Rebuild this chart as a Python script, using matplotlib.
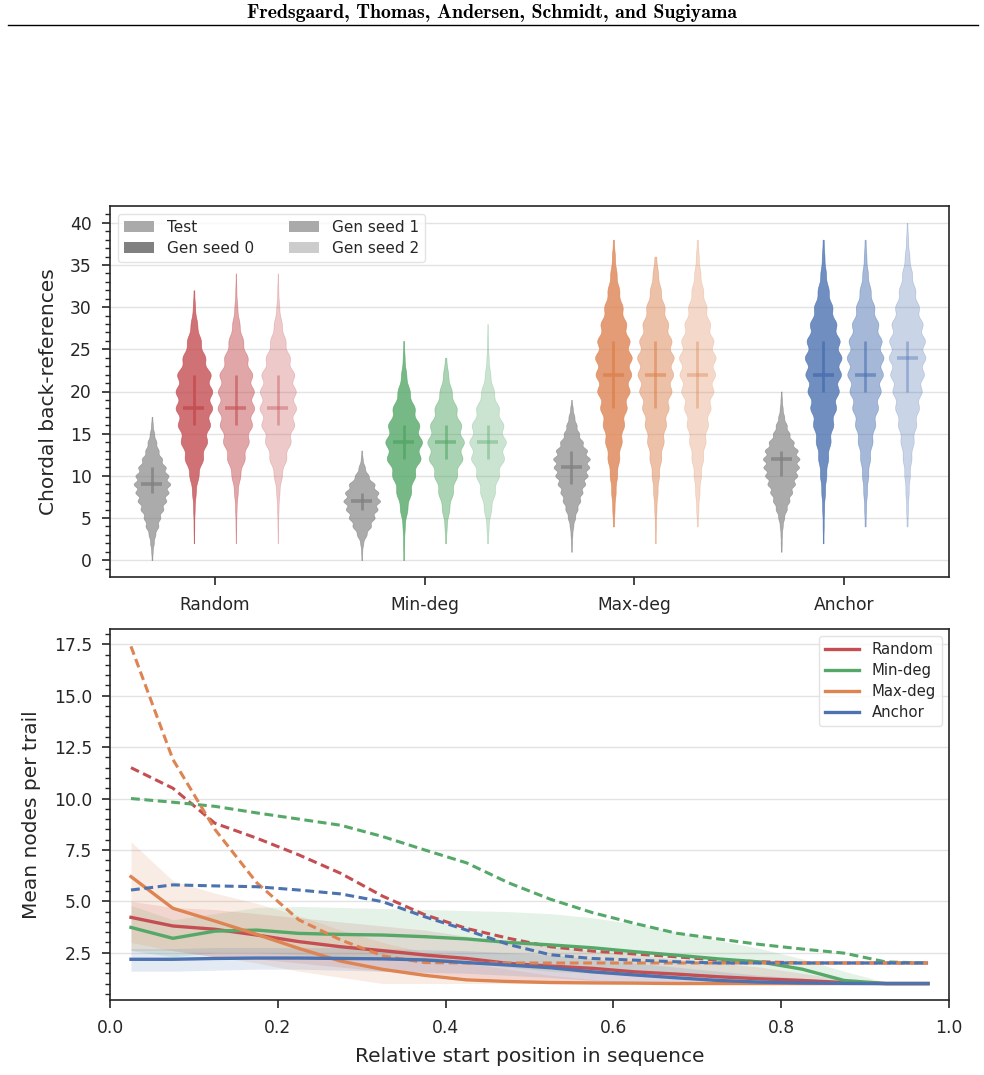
import numpy as np
import matplotlib
matplotlib.use("Agg")
import matplotlib.pyplot as plt
from matplotlib.patches import Patch
from matplotlib.lines import Line2D

# ---------------- data ----------------
categories = ["Random", "Min-deg", "Max-deg", "Anchor"]
groups = ["Test", "Gen seed 0", "Gen seed 1", "Gen seed 2"]

# Test distributions: counts at consecutive integers starting at test_starts
test_starts = [0, 0, 1, 1]
random_test = [2, 4, 10, 18, 35, 45, 62, 78, 90, 100, 90, 75, 55, 36, 24, 12, 5, 2]
mindeg_test = [2, 3, 8, 26, 50, 70, 86, 100, 91, 70, 37, 17, 5, 2]
maxdeg_test = [2, 3, 5, 10, 20, 33, 48, 60, 75, 88, 97, 100, 85, 62, 42, 28, 16, 7, 2]
anchor_test = [2, 3, 4, 8, 16, 30, 45, 60, 75, 88, 97, 100, 90, 68, 45, 30, 16, 8, 4, 2]

# Generated distributions: counts at even values starting at *_seed_starts
random_seed_starts = [2, 2, 2]
random_seed0 = [1, 2, 4, 10, 25, 50, 72, 88, 100, 100, 92, 62, 38, 18, 6, 2]
random_seed1 = [1, 2, 4, 10, 24, 48, 70, 88, 100, 98, 90, 64, 40, 20, 8, 3, 1]
random_seed2 = [1, 2, 4, 9, 22, 46, 70, 90, 100, 98, 90, 66, 42, 22, 8, 3, 1]

mindeg_seed_starts = [0, 2, 2]
mindeg_seed0 = [2, 3, 6, 20, 40, 62, 92, 100, 85, 60, 33, 14, 5, 2]
mindeg_seed1 = [3, 6, 20, 40, 62, 92, 100, 85, 60, 33, 14, 4]
mindeg_seed2 = [3, 6, 20, 40, 62, 90, 100, 86, 62, 35, 15, 6, 3, 1]

maxdeg_seed_starts = [4, 2, 4]
maxdeg_seed0 = [3, 6, 12, 20, 32, 45, 58, 72, 88, 97, 100, 88, 70, 50, 32, 17, 8, 3]
maxdeg_seed1 = [2, 3, 6, 12, 20, 32, 45, 58, 72, 88, 97, 100, 88, 70, 50, 30, 15, 5]
maxdeg_seed2 = [3, 6, 12, 20, 32, 45, 58, 72, 88, 97, 100, 88, 70, 50, 32, 17, 8, 3]

anchor_seed_starts = [2, 4, 4]
anchor_seed0 = [2, 3, 5, 10, 17, 27, 40, 55, 70, 85, 97, 100, 90, 72, 50, 30, 15, 7, 3]
anchor_seed1 = [3, 5, 10, 17, 27, 40, 55, 70, 85, 97, 100, 90, 72, 50, 30, 15, 7, 3]
anchor_seed2 = [3, 5, 9, 15, 24, 36, 50, 65, 80, 92, 100, 98, 85, 65, 45, 27, 13, 6, 2]

# medians / quartiles (Test, seed 0, seed 1, seed 2) per category
medians = [[9, 18, 18, 18], [7, 14, 14, 14], [11, 22, 22, 22], [12, 22, 22, 24]]
q1s = [[8, 16, 16, 16], [6, 12, 12, 12], [9, 18, 18, 18], [10, 20, 20, 20]]
q3s = [[11, 22, 22, 22], [8, 16, 16, 16], [13, 26, 26, 26], [13, 26, 26, 26]]

# Bottom panel
x_pos = [0.025, 0.075, 0.125, 0.175, 0.225, 0.275, 0.325, 0.375, 0.425, 0.475,
         0.525, 0.575, 0.625, 0.675, 0.725, 0.775, 0.825, 0.875, 0.925, 0.975]

random_solid = [4.22, 3.8, 3.64, 3.36, 3.04, 2.79, 2.6, 2.39, 2.22, 1.98,
                1.85, 1.74, 1.57, 1.46, 1.33, 1.23, 1.15, 1.05, 1.0, 1.0]
random_dash = [11.5, 10.5, 8.8, 8.07, 7.26, 6.36, 5.25, 4.35, 3.68, 3.2,
               2.79, 2.58, 2.44, 2.3, 2.14, 2.06, 2.0, 2.0, 2.0, 2.0]
random_hi = [5.0, 4.7, 4.6, 4.4, 4.2, 4.0, 3.8, 3.6, 3.3, 3.0,
             2.8, 2.6, 2.4, 2.2, 2.0, 1.8, 1.5, 1.2, 1.0, 1.0]
random_lo = [2.6, 2.6, 2.3, 2.2, 2.0, 1.8, 1.6, 1.5, 1.3, 1.2,
             1.1, 1.0, 1.0, 1.0, 1.0, 1.0, 1.0, 1.0, 1.0, 1.0]

mindeg_solid = [3.73, 3.2, 3.55, 3.6, 3.44, 3.39, 3.36, 3.28, 3.17, 3.0,
                2.88, 2.74, 2.55, 2.38, 2.2, 2.05, 1.7, 1.15, 1.0, 1.0]
mindeg_dash = [10.0, 9.82, 9.62, 9.3, 9.0, 8.7, 8.15, 7.5, 6.87, 5.9,
               5.1, 4.45, 3.93, 3.45, 3.17, 2.9, 2.68, 2.48, 2.05, 2.0]
mindeg_hi = [4.8, 4.1, 4.4, 4.7, 4.75, 4.7, 4.65, 4.6, 4.55, 4.5,
             4.4, 4.2, 3.9, 3.5, 3.1, 2.7, 2.2, 1.6, 1.05, 1.0]
mindeg_lo = [2.6, 2.3, 2.5, 2.5, 2.4, 2.3, 2.2, 2.1, 2.0, 1.8,
             1.6, 1.5, 1.4, 1.3, 1.2, 1.1, 1.0, 1.0, 1.0, 1.0]

maxdeg_solid = [6.2, 4.66, 4.04, 3.39, 2.71, 2.09, 1.69, 1.4, 1.18, 1.1,
                1.05, 1.03, 1.02, 1.0, 1.0, 1.0, 1.0, 1.0, 1.0, 1.0]
maxdeg_dash = [17.4, 11.9, 8.5, 5.9, 4.1, 3.12, 2.35, 2.02, 2.0, 2.0,
               2.0, 2.0, 2.0, 2.0, 2.0, 2.0, 2.0, 2.0, 2.0, 2.0]
maxdeg_hi = [7.9, 6.0, 5.4, 4.9, 4.3, 3.6, 3.0, 2.5, 2.0, 1.7,
             1.4, 1.2, 1.1, 1.05, 1.0, 1.0, 1.0, 1.0, 1.0, 1.0]
maxdeg_lo = [3.0, 2.6, 2.3, 2.0, 1.6, 1.3, 1.0, 1.0, 1.0, 1.0,
             1.0, 1.0, 1.0, 1.0, 1.0, 1.0, 1.0, 1.0, 1.0, 1.0]

anchor_solid = [2.18, 2.18, 2.22, 2.24, 2.24, 2.22, 2.2, 2.15, 2.02, 1.9,
                1.77, 1.57, 1.42, 1.28, 1.15, 1.07, 1.03, 1.01, 1.0, 1.0]
anchor_dash = [5.55, 5.8, 5.75, 5.71, 5.55, 5.36, 4.98, 4.25, 3.6, 2.9,
               2.4, 2.22, 2.14, 2.06, 2.0, 2.0, 2.0, 2.0, 2.0, 2.0]
anchor_hi = [2.7, 2.7, 2.75, 2.75, 2.75, 2.75, 2.7, 2.65, 2.6, 2.5,
             2.4, 2.2, 2.0, 1.8, 1.6, 1.4, 1.25, 1.1, 1.0, 1.0]
anchor_lo = [1.6, 1.6, 1.65, 1.7, 1.7, 1.65, 1.6, 1.55, 1.5, 1.4,
             1.3, 1.15, 1.05, 1.0, 1.0, 1.0, 1.0, 1.0, 1.0, 1.0]

# ---------------- style ----------------
plt.rcParams["font.family"] = ["DejaVu Sans"]
TXT = "#262626"
plt.rcParams["text.color"] = TXT
plt.rcParams["axes.labelcolor"] = TXT
plt.rcParams["xtick.color"] = TXT
plt.rcParams["ytick.color"] = TXT

cat_colors = ["#c44e52", "#55a868", "#dd8452", "#4c72b0"]
test_color = "#808080"
group_alpha = [0.66, 0.8, 0.5, 0.3]
offsets = [-0.3, -0.1, 0.1, 0.3]
VW = 0.175

W, H = 984, 1075
fig = plt.figure(figsize=(W / 100, H / 100), dpi=100)

# header
fig.text(0.5, 1 - 13 / H, "Fredsgaard, Thomas, Andersen, Schmidt, and Sugiyama",
         ha="center", va="center", fontsize=14.3, fontweight="bold",
         family=["cmb10", "DejaVu Serif"], color="black")
fig.add_artist(Line2D([8 / W, 978 / W], [1 - 25 / H, 1 - 25 / H],
                      color="black", lw=1.0, transform=fig.transFigure))

ax1 = fig.add_axes([110 / W, 1 - 577 / H, 839 / W, 371 / H])
ax2 = fig.add_axes([110 / W, 1 - 1000 / H, 839 / W, 371.5 / H])


def style_axes(ax):
    for s in ax.spines.values():
        s.set_color(TXT)
        s.set_linewidth(1.2)
    ax.tick_params(axis="both", which="major", direction="out", length=6,
                   width=1.2, labelsize=12.3)
    ax.tick_params(axis="y", which="minor", direction="out", length=3.5,
                   width=1.0)
    ax.tick_params(axis="y", which="major", pad=7)
    ax.tick_params(axis="x", which="major", pad=8)
    ax.grid(axis="y", which="major", color="#e3e3e3", lw=1.0)
    ax.set_axisbelow(True)


# ---------------- top panel: violins ----------------
test_lists = [random_test, mindeg_test, maxdeg_test, anchor_test]
seed_lists = [[random_seed0, random_seed1, random_seed2],
              [mindeg_seed0, mindeg_seed1, mindeg_seed2],
              [maxdeg_seed0, maxdeg_seed1, maxdeg_seed2],
              [anchor_seed0, anchor_seed1, anchor_seed2]]
seed_starts = [random_seed_starts, mindeg_seed_starts, maxdeg_seed_starts,
               anchor_seed_starts]


def violin_stats(start, step, counts, bw, med):
    vals_x = start + step * np.arange(len(counts))
    c = np.asarray(counts, float)
    grid = np.linspace(vals_x[0], vals_x[-1], 500)
    dens = (c[None, :] * np.exp(-0.5 * ((grid[:, None] - vals_x[None, :]) / bw) ** 2)).sum(1)
    return dict(coords=grid, vals=dens, mean=med, median=med,
                min=vals_x[0], max=vals_x[-1])


for i, cat in enumerate(categories):
    specs = [(test_starts[i], 1, test_lists[i], 0.4)]
    for k in range(3):
        specs.append((seed_starts[i][k], 2, seed_lists[i][k], 0.8))
    for g in range(4):
        start, step, counts, bw = specs[g]
        col = test_color if g == 0 else cat_colors[i]
        a = group_alpha[g]
        pos = i + offsets[g]
        st = violin_stats(start, step, counts, bw, medians[i][g])
        parts = ax1.violin([st], positions=[pos], widths=VW, showmeans=False,
                           showextrema=False, showmedians=False)
        for b in parts["bodies"]:
            b.set_facecolor(col)
            b.set_edgecolor(col)
            b.set_linewidth(0.45)
            b.set_alpha(a)
        ax1.vlines(pos, q1s[i][g], q3s[i][g], color=col, alpha=min(1, a + 0.1),
                   lw=2.0, zorder=3)
        ax1.hlines(medians[i][g], pos - 0.05, pos + 0.05, color=col,
                   alpha=min(1, a + 0.1), lw=2.6, zorder=3)

ax1.set_xlim(-0.5, 3.5)
ax1.set_ylim(-2, 42)
ax1.set_xticks(range(4))
ax1.set_xticklabels(categories)
ax1.set_yticks(np.arange(0, 41, 5))
ax1.set_yticks(np.arange(-1, 42, 1), minor=True)
ax1.set_ylabel("Chordal back-references", fontsize=14.5, labelpad=9)
style_axes(ax1)

leg_cols = ["#aaaaaa", "#808080", "#aaaaaa", "#cccccc"]
handles = [Patch(facecolor=leg_cols[g], edgecolor="none", label=groups[g])
           for g in range(4)]
ax1.legend(handles=handles, loc="upper left", ncol=2, fontsize=11,
           frameon=True, framealpha=0.8, edgecolor="#dddddd",
           columnspacing=2.3, handlelength=2.0, borderpad=0.4,
           labelspacing=0.4)

# ---------------- bottom panel: lines ----------------
solids = [random_solid, mindeg_solid, maxdeg_solid, anchor_solid]
dashes = [random_dash, mindeg_dash, maxdeg_dash, anchor_dash]
his = [random_hi, mindeg_hi, maxdeg_hi, anchor_hi]
los = [random_lo, mindeg_lo, maxdeg_lo, anchor_lo]

for i, cat in enumerate(categories):
    ax2.fill_between(x_pos, los[i], his[i], color=cat_colors[i], alpha=0.15,
                     lw=0)
for i, cat in enumerate(categories):
    ax2.plot(x_pos, solids[i], color=cat_colors[i], lw=2.4, label=cat)
    ax2.plot(x_pos, dashes[i], color=cat_colors[i], lw=2.2, ls=(0, (2.9, 1.5)))

ax2.set_xlim(0, 1)
ax2.set_ylim(0.2, 18.27)
ax2.set_yticks([2.5, 5.0, 7.5, 10.0, 12.5, 15.0, 17.5])
ax2.set_yticks(np.arange(0.5, 18.3, 0.5), minor=True)
ax2.set_xticks([0.0, 0.2, 0.4, 0.6, 0.8, 1.0])
ax2.set_xlabel("Relative start position in sequence", fontsize=14.5,
               labelpad=7)
ax2.set_ylabel("Mean nodes per trail", fontsize=14.5, labelpad=9)
style_axes(ax2)
ax2.legend(loc="upper right", fontsize=10.7, frameon=True, framealpha=0.8,
           edgecolor="#dddddd", handlelength=2.3, borderpad=0.4,
           labelspacing=0.4)

fig.savefig("out.png", dpi=100)
